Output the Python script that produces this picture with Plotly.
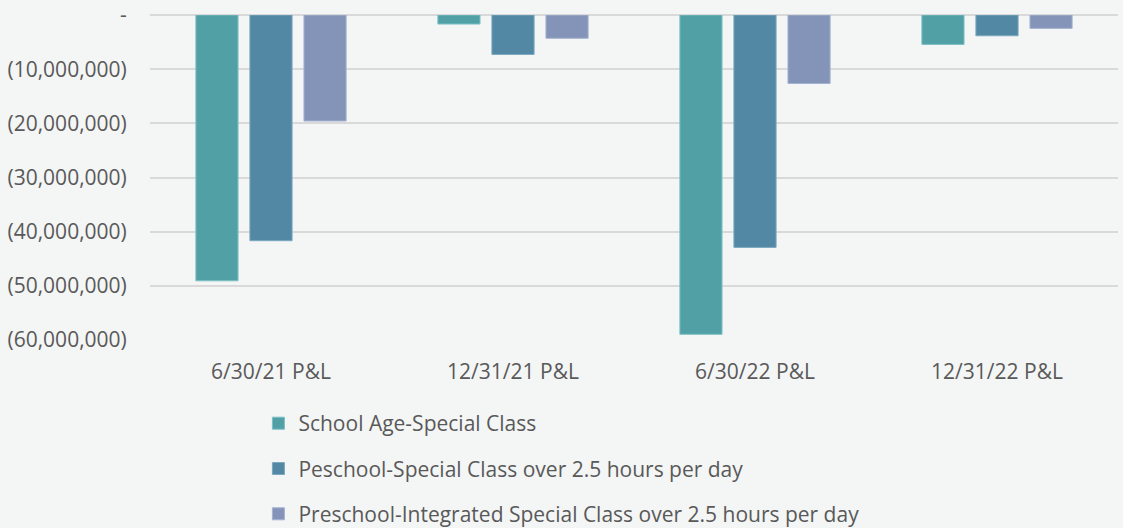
import plotly.graph_objects as go

categories = ["6/30/21 P&L", "12/31/21 P&L", "6/30/22 P&L", "12/31/22 P&L"]
series_names = [
    "School Age-Special Class",
    "Peschool-Special Class over 2.5 hours per day",
    "Preschool-Integrated Special Class over 2.5 hours per day",
]
school_age = [-49070000, -1670000, -58950000, -5430000]
preschool_special = [-41670000, -7280000, -42900000, -3830000]
preschool_integrated = [-19570000, -4300000, -12650000, -2470000]
tick_vals = [0, -10000000, -20000000, -30000000, -40000000, -50000000, -60000000]
tick_text = ["-", "(10,000,000)", "(20,000,000)", "(30,000,000)", "(40,000,000)", "(50,000,000)", "(60,000,000)"]

colors = ["#50A0A6", "#5288A3", "#8494B8"]
edge = ["#7CC0C4", "#7AA8C0", "#A5B2D0"]

fig = go.Figure()
for i, (name, vals) in enumerate(zip(series_names, [school_age, preschool_special, preschool_integrated])):
    fig.add_trace(go.Bar(
        x=categories, y=vals, name=name, legendgroup=f"g{i}",
        marker=dict(color=colors[i], line=dict(color=edge[i], width=1)),
    ))

font = "Open Sans, Calibri, sans-serif"
fs = 21
fig.update_layout(
    width=1123, height=528,
    margin=dict(l=150, r=5, t=15, b=188, autoexpand=False),
    paper_bgcolor="#f4f5f5", plot_bgcolor="#f4f5f5",
    barmode="group", bargap=0.33, bargroupgap=0.22,
    font=dict(family=font, size=fs, color="#595959"),
    showlegend=True,
    legend=dict(
        orientation="v", x=0.112, xanchor="left", y=-0.194, yanchor="top",
        traceorder="grouped", tracegroupgap=15,
        font=dict(family=font, size=fs, color="#595959"),
        bgcolor="rgba(0,0,0,0)",
    ),
    xaxis=dict(
        showgrid=False, showline=False, zeroline=False,
        ticks="outside", ticklen=13, tickcolor="rgba(0,0,0,0)",
        tickfont=dict(family=font, size=fs, color="#595959"),
    ),
    yaxis=dict(
        range=[-60000000, 0], tickvals=tick_vals, ticktext=tick_text,
        showgrid=True, gridcolor="#d9d9d9", gridwidth=1.5,
        zeroline=True, zerolinecolor="#d9d9d9", zerolinewidth=1.5,
        showline=False,
        ticks="outside", ticklen=18, tickcolor="rgba(0,0,0,0)",
        tickfont=dict(family=font, size=fs, color="#595959"),
    ),
)

fig.write_html(
    "out.html",
    config={"displayModeBar": False},
    post_script="document.body.style.margin='0';document.body.style.background='#f4f5f5';",
)
